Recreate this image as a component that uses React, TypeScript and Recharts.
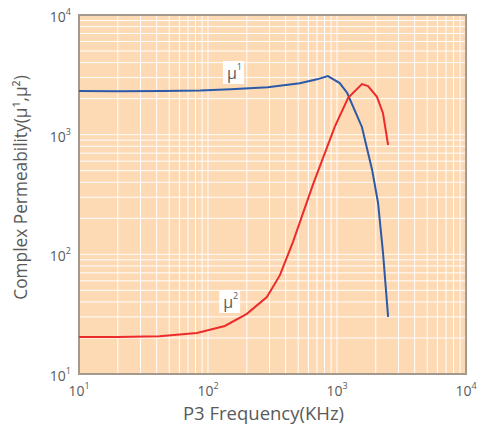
import {
  LineChart,
  Line,
  XAxis,
  YAxis,
  CartesianGrid,
  ReferenceArea,
  ReferenceDot,
  Label,
} from 'recharts'

const MU1_FREQ = [10, 20, 45, 87, 150, 290, 515, 700, 850, 1050, 1200, 1560, 1870, 2080, 2270, 2490]
const MU1_VALUES = [2320, 2310, 2320, 2340, 2400, 2490, 2690, 2900, 3090, 2700, 2230, 1160, 510, 270, 105, 30]

// μ'' (imaginary part)
const MU2_FREQ = [10, 20, 42, 82, 135, 200, 286, 361, 456, 650, 960, 1220, 1560, 1740, 2040, 2270, 2490]
const MU2_VALUES = [20.4, 20.4, 20.7, 22, 25.2, 31.8, 44, 67, 127, 380, 1160, 2030, 2650, 2550, 2070, 1520, 820]

const DECADES = [10, 100, 1000, 10000]
const STEPS = [1, 2, 3, 4, 5, 6, 7, 8, 9]

const TEXT = '#5a5a5a'
const FONT = '"Open Sans", "Noto Sans", sans-serif'

// every 1..9 x decade so the grid gets minor lines too
const gridTicks = DECADES.flatMap((d, i) =>
  i === DECADES.length - 1 ? [d] : STEPS.map((s) => s * d)
)

const mu1Data = MU1_FREQ.map((f, i) => ({ f, mu: MU1_VALUES[i] }))
const mu2Data = MU2_FREQ.map((f, i) => ({ f, mu: MU2_VALUES[i] }))

function powerOf(v: number) {
  const exp = Math.round(Math.log10(v))
  return Math.abs(10 ** exp - v) < 1e-6 ? exp : null
}

function XTick({ x, y, payload }: any) {
  const exp = powerOf(payload.value)
  if (exp === null) return <g />
  return (
    <text x={x} y={y + 14} textAnchor="middle" fill={TEXT} fontSize={14} fontFamily={FONT}>
      <tspan>10</tspan>
      <tspan dy={-7} fontSize={9}>{exp}</tspan>
    </text>
  )
}

function YTick({ x, y, payload }: any) {
  const exp = powerOf(payload.value)
  if (exp === null) return <g />
  return (
    <text x={x} y={y + 7} textAnchor="end" fill={TEXT} fontSize={14} fontFamily={FONT}>
      <tspan>10</tspan>
      <tspan dy={-7} fontSize={9}>{exp}</tspan>
    </text>
  )
}

function MuTag({ cx, cy, sup }: { cx: number; cy: number; sup: string }) {
  return (
    <g>
      <rect x={cx - 10} y={cy - 11} width={21} height={23} fill="#fff" />
      <text x={cx - 6} y={cy + 7} fill={TEXT} fontSize={16} fontFamily={FONT}>
        <tspan>μ</tspan>
        <tspan dy={-9} fontSize={9}>{sup}</tspan>
      </text>
    </g>
  )
}

function YTitle({ viewBox }: any) {
  const cx = viewBox.x + 8
  const cy = viewBox.y + viewBox.height / 2 - 7
  return (
    <text
      x={cx}
      y={cy}
      transform={`rotate(-90, ${cx}, ${cy})`}
      textAnchor="middle"
      fill={TEXT}
      fontSize={17.3}
      fontFamily={FONT}
    >
      Complex Permeability(μ¹,μ²)
    </text>
  )
}

export default function App() {
  return (
    <div style={{ position: 'absolute', left: 0, top: 0, width: 484, height: 428, background: '#fff' }}>
      <LineChart width={484} height={428} margin={{ top: 15, right: 18, bottom: 14, left: 19 }}>
        <CartesianGrid stroke="#ffffff" strokeWidth={1} fill="#fdd9b4" fillOpacity={1} />
        <XAxis
          dataKey="f"
          type="number"
          scale="log"
          domain={[10, 10000]}
          ticks={gridTicks}
          interval={0}
          allowDataOverflow
          height={40}
          tick={<XTick />}
          tickLine={false}
          axisLine={false}
        >
          <Label
            value="P3 Frequency(KHz)"
            position="insideBottom"
            offset={-6}
            dx={-9}
            fill={TEXT}
            fontSize={18.5}
            fontFamily={FONT}
          />
        </XAxis>
        <YAxis
          dataKey="mu"
          type="number"
          scale="log"
          domain={[10, 10000]}
          ticks={gridTicks}
          interval={0}
          allowDataOverflow
          width={60}
          tick={<YTick />}
          tickLine={false}
          axisLine={false}
        >
          <Label content={<YTitle />} />
        </YAxis>
        <Line
          data={mu1Data}
          dataKey="mu"
          type="linear"
          stroke="#2b5aa8"
          strokeWidth={2}
          dot={false}
          isAnimationActive={false}
        />
        <Line
          data={mu2Data}
          dataKey="mu"
          type="linear"
          stroke="#ee2b2b"
          strokeWidth={2}
          dot={false}
          isAnimationActive={false}
        />
        <ReferenceDot x={156} y={3340} r={0} shape={(p: any) => <MuTag cx={p.cx} cy={p.cy} sup="1" />} />
        <ReferenceDot x={146} y={40.8} r={0} shape={(p: any) => <MuTag cx={p.cx} cy={p.cy} sup="2" />} />
        <ReferenceArea
          x1={10}
          x2={10000}
          y1={10}
          y2={10000}
          fill="none"
          stroke="#a3998c"
          strokeWidth={2}
        />
      </LineChart>
    </div>
  )
}
